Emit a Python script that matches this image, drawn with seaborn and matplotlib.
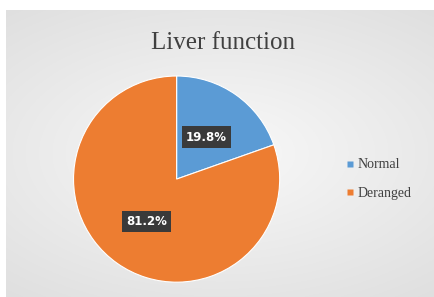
import numpy as np
import matplotlib
matplotlib.use("Agg")
import matplotlib.pyplot as plt
import seaborn as sns
from matplotlib.lines import Line2D

# data
categories = ["Normal", "Deranged"]
values = [19.8, 81.2]
colors = ["#5B9BD5", "#ED7D31"]
title = "Liver function"

sns.set_style("white")
plt.rcParams["font.family"] = ["DejaVu Sans"]

fig = plt.figure(figsize=(4.35, 2.97), dpi=100)
fig.patch.set_facecolor("white")

# light grey chart area with soft radial shading
bg = fig.add_axes([6 / 435, 0, 1 - 6 / 435, 1 - 10 / 297])
yy, xx = np.mgrid[-1:1:200j, -1:1:300j]
r = np.sqrt((xx * 0.9) ** 2 + (yy * 1.1) ** 2)
shade = np.clip(0.975 - 0.07 * r, 0, 1)
bg.imshow(np.dstack([shade, shade, shade]), aspect="auto", extent=[0, 1, 0, 1])
bg.set_axis_off()

ax = fig.add_axes([0.164, 0.043, 0.484, 0.708])
wedges, texts, autotexts = ax.pie(
    values,
    colors=colors,
    startangle=90,
    counterclock=False,
    autopct="%1.1f%%",
    pctdistance=0.5,
    wedgeprops=dict(edgecolor="white", linewidth=0.8),
)
for t, v in zip(autotexts, values):
    t.set_text(f"{v:.1f}%")
    t.set_color("white")
    t.set_fontsize(8.5)
    t.set_fontweight("bold")
    t.set_bbox(dict(boxstyle="square,pad=0.35", fc="#3a3a3a", ec="none"))
ax.set_xlim(-1.02, 1.02)
ax.set_ylim(-1.02, 1.02)
ax.set_aspect("equal")
ax.set_axis_off()

fig.text(223 / 435, 1 - 43 / 297, title, ha="center", va="center",
         fontsize=18, family="Liberation Serif", color="#404040")

handles = [Line2D([], [], marker="s", linestyle="none", markersize=4,
                  markerfacecolor=c, markeredgecolor="none") for c in colors]
leg = fig.legend(handles, categories, loc="center left",
                 bbox_to_anchor=(333 / 435, 1 - 179 / 297), frameon=False,
                 handletextpad=0.15, labelspacing=1.1, handlelength=0.7,
                 prop={"family": "Liberation Serif", "size": 10})
for t in leg.get_texts():
    t.set_color("#404040")

fig.savefig("out.png", dpi=100)
